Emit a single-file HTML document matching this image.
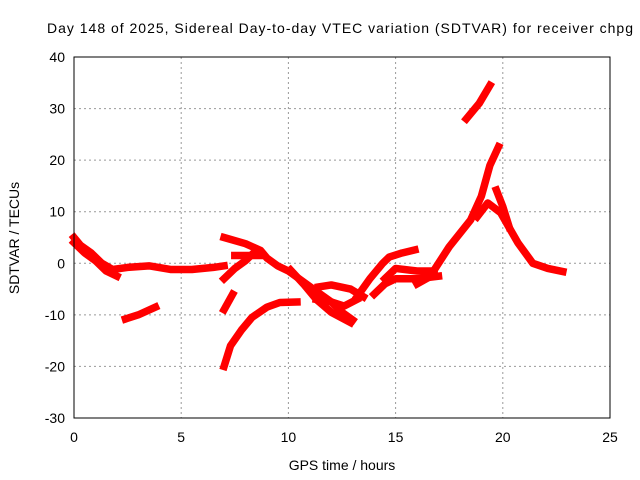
<!DOCTYPE html>
<html><head><meta charset="utf-8"><style>
body{margin:0;background:#fff;}
svg{display:block;font-family:"Liberation Sans",Arial,sans-serif;}
</style></head><body>
<svg id="chart" width="640" height="480">
<text x="340" y="33" font-size="14" text-anchor="middle" textLength="586">Day 148 of 2025, Sidereal Day-to-day VTEC variation (SDTVAR) for receiver chpg</text>
<text x="342" y="470" font-size="14" text-anchor="middle">GPS time / hours</text>
<text transform="translate(19,238) rotate(-90)" font-size="14" text-anchor="middle">SDTVAR / TECUs</text>
<g id="grid"></g><g id="marks"></g>
<rect x="74" y="57" width="536" height="361" fill="none" stroke="#000" stroke-width="1"/>
<g id="ticks"></g>
</svg>
<script>
const xTicks=[0,5,10,15,20,25];
const yTicks=[-30,-20,-10,0,10,20,30,40];
const trackHours=[
 [0,0.3,0.8,1.3,1.8,2.5,3.5,4.5,5.5,6.5,7.0],
 [0,0.5,1.0,1.5,2.0],
 [2.4,3.0,3.8],
 [7.0,7.4],
 [7.0,7.3,7.8,8.3,9.0,9.6,10.4],
 [7.0,8.0,8.7,9.0,9.5,10.0,10.5,11.0,11.5,12.0,12.5,13.0],
 [7.0,7.5,8.0,8.5],
 [7.5,8.8],
 [10.1,10.7,11.3,12.0,12.9],
 [11.4,12.0,12.9,13.5],
 [11.3,12.0,12.6,13.2],
 [13.2,13.8,14.4,14.7,15.3,15.9],
 [14.0,14.5,15.0,16.0,17.0],
 [14.5,15.0,16.0,16.8],
 [16.0,16.6,17.5,18.5,19.0,19.4,19.8],
 [18.8,19.3,19.9,20.7,21.4,22.1,22.8],
 [19.7,20.0,20.3],
 [18.3,18.9,19.4]
];
const trackValues=[
 [5,3.5,2,0,-1.2,-0.8,-0.5,-1.2,-1.2,-0.8,-0.5],
 [4,2,0.5,-1.5,-2.5],
 [-10.8,-10,-8.5],
 [-9,-6],
 [-20,-16,-13,-10.5,-8.5,-7.6,-7.5],
 [5,3.8,2.5,1,-0.5,-1.5,-3,-4.5,-6,-7.5,-9.5,-11],
 [-3,-1,0.5,2.5],
 [1.5,1.5],
 [-1.3,-4,-7,-9.5,-11.5],
 [-4.6,-4.2,-5,-6.5],
 [-7,-7.5,-8.3,-7],
 [-6.5,-3,0,1.2,2,2.6],
 [-6,-4,-3,-3,-2.5],
 [-3,-1,-1.5,-1.5],
 [-4,-2.6,3.2,8.4,13,19,22.6],
 [9,11.7,9.8,4,0,-1,-1.6],
 [14.2,11,7],
 [28,31,34.5]
];
const NS="http://www.w3.org/2000/svg";
const X0=74,X1=610,Y0=418,Y1=57;
function xs(h){return X0+(h-0)/(25-0)*(X1-X0);}
function ys(v){return Y0-(v+30)/(70)*(Y0-Y1);}
const grid=document.getElementById('grid'),ticks=document.getElementById('ticks'),marks=document.getElementById('marks');
xTicks.forEach(t=>{
 const x=xs(t);
 if(t>0&&t<25){const g=document.createElementNS(NS,'line');
 g.setAttribute('x1',x);g.setAttribute('x2',x);g.setAttribute('y1',Y1);g.setAttribute('y2',Y0);
 g.setAttribute('stroke','#999');g.setAttribute('stroke-dasharray','2,3');
 
 
 grid.appendChild(g);}
 const tk=document.createElementNS(NS,'text');
 tk.setAttribute('x',x);tk.setAttribute('y',Y0+24);tk.setAttribute('font-size','14');tk.setAttribute('text-anchor','middle');
 tk.textContent=t;
 
 
 ticks.appendChild(tk);
});
yTicks.forEach(t=>{
 const y=ys(t);
 if(t>-30&&t<40){const g=document.createElementNS(NS,'line');
 g.setAttribute('x1',X0);g.setAttribute('x2',X1);g.setAttribute('y1',y);g.setAttribute('y2',y);
 g.setAttribute('stroke','#999');g.setAttribute('stroke-dasharray','2,3');
 
 
 grid.appendChild(g);}
 const tk=document.createElementNS(NS,'text');
 tk.setAttribute('x',X0-9);tk.setAttribute('y',y+5);tk.setAttribute('font-size','14');tk.setAttribute('text-anchor','end');
 tk.textContent=String(t).replace('-','-');
 
 
 ticks.appendChild(tk);
});
trackHours.forEach((hs,i)=>{
 const vs=trackValues[i];
 const p=document.createElementNS(NS,'polyline');
 p.setAttribute('points',hs.map((h,j)=>xs(h)+','+ys(vs[j])).join(' '));
 p.setAttribute('fill','none');p.setAttribute('stroke','#ff0000');p.setAttribute('stroke-width','7.5');
 p.setAttribute('stroke-linejoin','round');p.setAttribute('stroke-linecap','square');
 
 
 marks.appendChild(p);
});
</script>
</body></html>
